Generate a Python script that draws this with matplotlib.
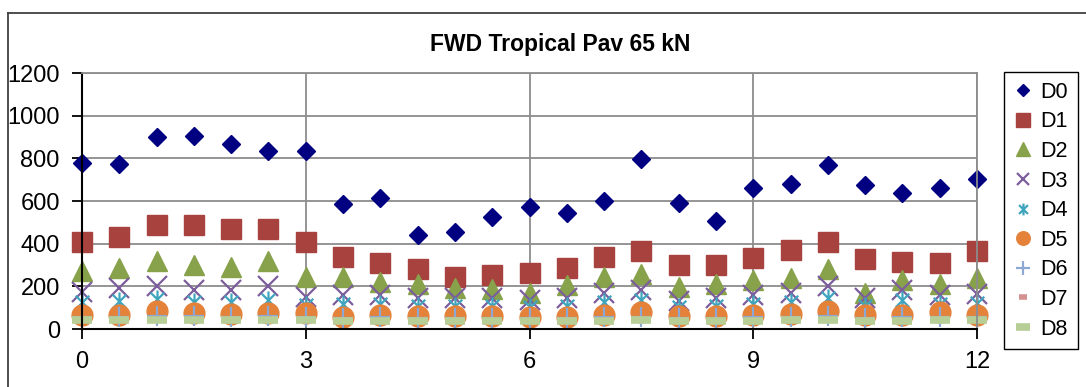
import numpy as np
import matplotlib
matplotlib.use('Agg')
import matplotlib.pyplot as plt
from matplotlib.lines import Line2D
from matplotlib.path import Path

plt.rcParams['font.family'] = ['Liberation Sans', 'DejaVu Sans']

# station (km) and deflection basin readings D0..D8 (microns)
station = [0, 0.5, 1, 1.5, 2, 2.5, 3, 3.5, 4, 4.5, 5, 5.5, 6,
           6.5, 7, 7.5, 8, 8.5, 9, 9.5, 10, 10.5, 11, 11.5, 12]
d0 = [778, 772, 900, 905, 866, 836, 833, 586, 613, 440, 456, 526, 573,
      545, 601, 795, 589, 504, 663, 680, 770, 676, 636, 663, 705]
d1 = [409, 430, 487, 487, 468, 468, 406, 339, 308, 283, 242, 253, 264,
      287, 336, 364, 298, 300, 331, 370, 407, 328, 315, 311, 365]
d2 = [273, 287, 317, 300, 292, 317, 243, 243, 222, 210, 190, 186, 167,
      206, 242, 258, 195, 209, 230, 237, 279, 167, 230, 212, 237]
d3 = [175, 191, 201, 183, 183, 201, 151, 159, 159, 144, 144, 144, 136,
      144, 167, 183, 133, 144, 159, 167, 201, 144, 183, 159, 164]
d4 = [125, 130, 140, 128, 128, 138, 112, 118, 118, 108, 108, 110, 105,
      110, 125, 135, 102, 108, 118, 125, 145, 110, 135, 118, 122]
d5 = [66, 66, 84, 77, 70, 73, 73, 58, 66, 62, 60, 62, 58,
      58, 66, 81, 61, 61, 66, 70, 86, 66, 66, 81, 66]
d6 = [58, 56, 62, 60, 58, 60, 56, 52, 55, 52, 50, 52, 50,
      52, 55, 58, 52, 52, 55, 56, 60, 52, 55, 58, 56]
d7 = [45, 44, 48, 46, 45, 46, 44, 42, 43, 41, 40, 41, 40,
      41, 43, 45, 41, 41, 43, 44, 46, 41, 43, 45, 44]
d8 = [41, 40, 44, 42, 41, 42, 40, 38, 39, 38, 37, 38, 37,
      38, 39, 41, 38, 38, 39, 40, 42, 38, 39, 41, 40]

labels = ['D0', 'D1', 'D2', 'D3', 'D4', 'D5', 'D6', 'D7', 'D8']
series = [d0, d1, d2, d3, d4, d5, d6, d7, d8]

# excel-like star: an x with a vertical bar through it
star = Path([(0, -1), (0, 1), (-0.75, -0.75), (0.75, 0.75), (-0.75, 0.75), (0.75, -0.75)],
            [Path.MOVETO, Path.LINETO, Path.MOVETO, Path.LINETO, Path.MOVETO, Path.LINETO])

styles = [
    dict(marker='D', ms=9.5, color='#000080'),
    dict(marker='s', ms=14.5, color='#A8423F'),
    dict(marker='^', ms=15, color='#87A24A'),
    dict(marker='x', ms=14, color='#7C5E9C', mew=1.6),
    dict(marker=star, ms=13, color='#3FA5BE', mew=1.6),
    dict(marker='o', ms=15, color='#E4823A'),
    dict(marker='+', ms=15, color='#8DA8D2', mew=1.6),
    dict(marker='_', ms=9, color='#D49190', mew=4),
    dict(marker='_', ms=15, color='#B7CE96', mew=5.5),
]

fig = plt.figure(figsize=(10.86, 3.87), dpi=100)
ax = fig.add_axes([82 / 1086, 1 - 329 / 387, 895 / 1086, 256 / 387])

for lab, vals, st in zip(labels, series, styles):
    ax.plot(station, vals, linestyle='none', label=lab, clip_on=False,
            markeredgecolor=st['color'], markerfacecolor=st['color'],
            marker=st['marker'], ms=st['ms'], mew=st.get('mew', 1))

ax.set_xlim(0, 12)
ax.set_ylim(0, 1200)
ax.set_xticks([0, 3, 6, 9, 12])
ax.set_yticks(range(0, 1201, 200))
ax.grid(True, color='#8c8c8c', linewidth=1.3)
ax.set_axisbelow(True)
for side in ['top', 'right']:
    ax.spines[side].set_color('#8c8c8c')
    ax.spines[side].set_linewidth(1.3)
for side in ['left', 'bottom']:
    ax.spines[side].set_color('black')
    ax.spines[side].set_linewidth(1.5)
ax.tick_params(direction='out', length=7, width=1.3, labelsize=17, pad=9)

ax.legend(loc='upper left', bbox_to_anchor=(1004 / 1086, 1 - 72 / 387),
          bbox_transform=fig.transFigure, fontsize=15.5, frameon=True,
          fancybox=False, edgecolor='black', framealpha=1,
          labelspacing=0.4, handlelength=0.9, handletextpad=0.35,
          borderpad=0.45, markerscale=0.65, borderaxespad=0)
ax.get_legend().get_frame().set_linewidth(1.0)

fig.text(560 / 1086, 1 - 45 / 387, 'FWD Tropical Pav 65 kN', ha='center', va='center',
         fontsize=16.5, fontweight='bold')

# chart area border
fig.add_artist(Line2D([8 / 1086, 8 / 1086], [0, 1 - 13 / 387], color='#404040', lw=1.3))
fig.add_artist(Line2D([8 / 1086, 1], [1 - 13 / 387, 1 - 13 / 387], color='#404040', lw=1.3))

fig.savefig('out.png', dpi=100)
